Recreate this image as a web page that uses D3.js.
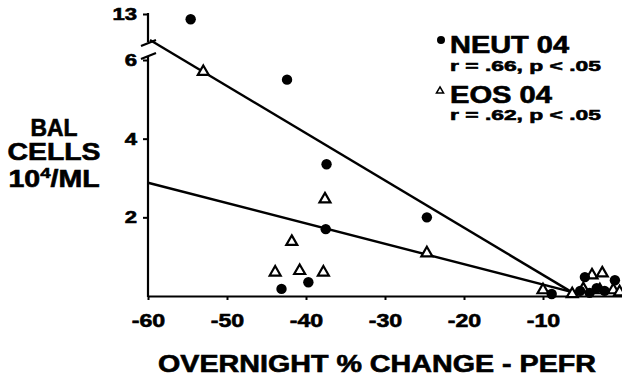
<!DOCTYPE html>
<html>
<head>
<meta charset="utf-8">
<script src="https://cdn.jsdelivr.net/npm/d3@7"></script>
<style>
  html, body { margin: 0; padding: 0; background: #fff; }
  svg { display: block; }
  text { font-family: "Liberation Sans", Arial, Helvetica, sans-serif; font-weight: bold; fill: #000; stroke: #000; stroke-width: 0.6px; }
</style>
</head>
<body>
<svg id="chart" width="622" height="380"></svg>
<script>
// ---- data ----
const xTicks = [-60, -50, -40, -30, -20, -10];
const yTicks = [2, 4, 6, 13];
const yTickLabels = ["2", "4", "6", "13"];

// neutrophils (filled circles): overnight % change in PEFR vs BAL cells (10^4/mL)
const neutX = [-54.6, -42.4, -37.4, -37.5, -43.1, -39.7, -24.7, -8.9, -5.3, -4.7, -4.1, -3.2, -2.2, -0.9];
const neutY = [12.2, 5.5, 3.35, 1.70, 0.18, 0.35, 2.0, 0.05, 0.13, 0.48, 0.08, 0.2, 0.13, 0.4];

// eosinophils (open triangles)
const eosX = [-53.0, -37.6, -41.8, -43.9, -40.8, -37.8, -24.7, -10.0, -6.3, -4.9, -3.8, -2.5, -2.8, -1.1, -0.3];
const eosY = [5.70, 2.46, 1.38, 0.60, 0.64, 0.60, 1.09, 0.15, 0.05, 0.18, 0.53, 0.58, 0.15, 0.15, 0.10];

// regression lines, [x, y] end points
const neutFit = [[-59.75, 6.51], [-6.2, 0.08]];
const eosFit = [[-60, 2.88], [-6.3, 0.10]];

const legendNames = ["NEUT 04", "EOS 04"];
const legendStats = ["r = .66, p < .05", "r = .62, p < .05"];
const xTitle = "OVERNIGHT % CHANGE - PEFR";
const yTitleLines = ["BAL", "CELLS"];
const yTitleUnit = ["10", "4", "/ML"];

// ---- scales ----
const svg = d3.select("#chart");
const x = d3.scaleLinear().domain([-60, 0]).range([148, 622]);
// broken axis: 0..6 linear, then a compressed jump up to 13
const y = d3.scaleLinear().domain([0, 6, 13]).range([296, 60, 14]);
// regression lines live in the unbroken linear part of the axis
const yLin = d3.scaleLinear().domain([0, 6]).range([296, 60]);

// ---- x axis ----
const gx = svg.append("g")
  .attr("transform", `translate(0,${y(0)})`)
  .call(d3.axisBottom(x).tickValues(xTicks).tickSize(4).tickSizeOuter(0).tickFormat(d => String(d)));
gx.select(".domain").attr("stroke", "#000").attr("stroke-width", 2.2);
gx.selectAll(".tick line").attr("stroke", "#000").attr("stroke-width", 2);
gx.selectAll(".tick text")
  .attr("y", 31).attr("dy", 0)
  .style("font-size", "19px")
  .attr("transform", "scale(1.22,1)");

// ---- y axis (ticks + labels; the spine is drawn in two pieces) ----
const gy = svg.append("g")
  .attr("transform", `translate(${x(-60)},0)`)
  .call(d3.axisLeft(y).tickValues(yTicks).tickSize(5).tickFormat((d, i) => yTickLabels[i]));
gy.select(".domain").remove();
gy.selectAll(".tick line").attr("stroke", "#000").attr("stroke-width", 2);
gy.selectAll(".tick text")
  .attr("x", -8.5)
  .style("font-size", "17px")
  .attr("transform", "scale(1.3,1)");

const ax = x(-60);
const spine = svg.append("g").attr("stroke", "#000").attr("stroke-width", 2.2).attr("fill", "none");
spine.append("line").attr("x1", ax).attr("x2", ax).attr("y1", y(13) - 1).attr("y2", y(6) - 18);
spine.append("line").attr("x1", ax).attr("x2", ax).attr("y1", y(6) - 4).attr("y2", y(0) + 1);
// break marks
[y(6) - 17, y(6) - 4].forEach(by => {
  spine.append("line")
    .attr("x1", ax - 7).attr("y1", by + 3)
    .attr("x2", ax + 8).attr("y2", by - 3);
});

// ---- regression lines ----
const line = d3.line().x(d => x(d[0])).y(d => yLin(d[1]));
svg.append("path").datum(neutFit).attr("d", line)
  .attr("fill", "none").attr("stroke", "#000").attr("stroke-width", 2.4);
svg.append("path").datum(eosFit).attr("d", line)
  .attr("fill", "none").attr("stroke", "#000").attr("stroke-width", 2.4);

// ---- points ----
const tri = d3.symbol().type(d3.symbolTriangle).size(52);
svg.append("g").selectAll("path")
  .data(d3.zip(eosX, eosY))
  .join("path")
  .attr("d", tri)
  .attr("transform", d => `translate(${x(d[0])},${y(d[1])})`)
  .attr("fill", "#fff").attr("stroke", "#000").attr("stroke-width", 2.2);

svg.append("g").selectAll("circle")
  .data(d3.zip(neutX, neutY))
  .join("circle")
  .attr("cx", d => x(d[0])).attr("cy", d => y(d[1]))
  .attr("r", 5.2).attr("fill", "#000");

// ---- legend ----
const lg = svg.append("g");
lg.append("circle").attr("cx", 441).attr("cy", 40).attr("r", 4).attr("fill", "#000");
lg.append("path").attr("d", d3.symbol().type(d3.symbolTriangle).size(22))
  .attr("transform", "translate(440,91)")
  .attr("fill", "#fff").attr("stroke", "#000").attr("stroke-width", 1.5);
const nameLen = [119, 102];
[52.5, 103].forEach((by, i) => {
  lg.append("text").attr("x", 450).attr("y", by)
    .style("font-size", "23px")
    .attr("textLength", nameLen[i]).attr("lengthAdjust", "spacingAndGlyphs")
    .text(legendNames[i]);
});
[71, 120].forEach((by, i) => {
  lg.append("text").attr("x", 450).attr("y", by)
    .style("font-size", "15.5px")
    .attr("textLength", 151).attr("lengthAdjust", "spacingAndGlyphs")
    .text(legendStats[i]);
});

// ---- axis titles ----
svg.append("text")
  .attr("x", 377).attr("y", 372)
  .attr("text-anchor", "middle")
  .style("font-size", "23px")
  .attr("textLength", 438).attr("lengthAdjust", "spacingAndGlyphs")
  .text(xTitle);

const yTitleLen = [47, 93];
[136, 160].forEach((by, i) => {
  svg.append("text")
    .attr("x", 54).attr("y", by)
    .attr("text-anchor", "middle")
    .style("font-size", "23px")
    .attr("textLength", yTitleLen[i]).attr("lengthAdjust", "spacingAndGlyphs")
    .text(yTitleLines[i]);
});
const unit = svg.append("text")
  .attr("x", 54).attr("y", 187)
  .attr("text-anchor", "middle")
  .style("font-size", "23px")
  .attr("transform", "translate(54,0) scale(1.24,1) translate(-54,0)");
unit.append("tspan").text(yTitleUnit[0]);
unit.append("tspan").attr("dy", -9).style("font-size", "15px").text(yTitleUnit[1]);
unit.append("tspan").attr("dy", 9).text(yTitleUnit[2]);
</script>
</body>
</html>
